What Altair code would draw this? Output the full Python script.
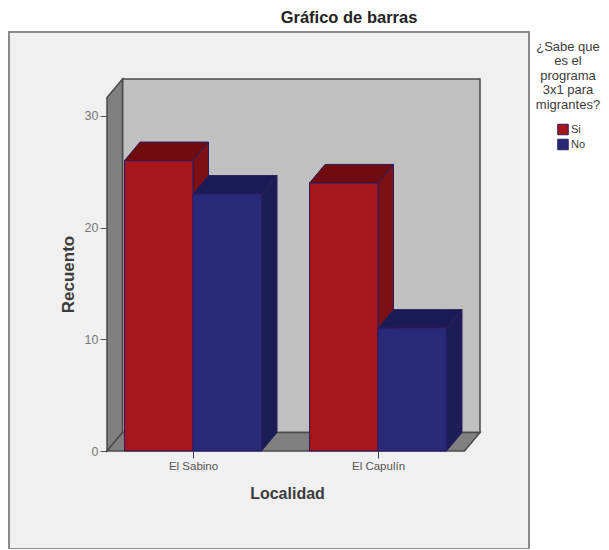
import altair as alt
import pandas as pd

# ---- values ----
categories = ["El Sabino", "El Capulín"]
series = ["Si", "No"]
si_counts = [26, 24]
no_counts = [23, 11]
y_ticks = [0, 10, 20, 30]
legend_title = ["¿Sabe que", "es el", "programa", "3x1 para", "migrantes?"]

# ---- styles / geometry ----
FONT = "Liberation Sans"
TEXT = "#3c3c3c"
FRONT = {"Si": "#a5151b", "No": "#29297a"}
TOP = {"Si": "#6e0c10", "No": "#1a1a57"}
SIDE = {"Si": "#7c1014", "No": "#1c1c56"}
EDGE = "#2b1d5c"
WALL_EDGE = "#4a4a4a"

PX_X = 185.0          # pixels per category step
PX_Y = 11.17          # pixels per count
PLOT_W, PLOT_H = 373, 372
BAR = 68.5 / PX_X     # bar width in category units
DX = 15.5 / PX_X      # depth, x
DY = 18.5 / PX_Y      # depth, y
X_MIN = -86.0 / PX_X
X_MAX = X_MIN + PLOT_W / PX_X
Y_MAX = PLOT_H / PX_Y
WALL_TOP = Y_MAX - DY
FLOOR_RIGHT = X_MAX - DX
LEFT, TOP_PAD = 99, 71
SVG_W, SVG_H = 593, 541

x_enc = alt.X(
    "x:Q",
    scale=alt.Scale(domain=[X_MIN, X_MAX], nice=False, zero=False),
    axis=alt.Axis(
        title="Localidad", zindex=1,
        titleFont=FONT, titleFontSize=16, titleFontWeight="bold",
        titleColor=TEXT, titleX=287 - 107, titleY=498 - 451,
        titleBaseline="alphabetic", titleAlign="center",
        labelFont=FONT, labelFontSize=11.5, labelColor="#555555", labelPadding=2,
        values=list(range(len(categories))),
        labelExpr="datum.value == 0 ? '%s' : '%s'" % tuple(categories),
        tickSize=7, tickColor="#3a3a5a", grid=False, domain=False,
    ),
)
y_enc = alt.Y(
    "y:Q",
    stack=None,
    scale=alt.Scale(domain=[0, Y_MAX], nice=False),
    axis=alt.Axis(
        title="Recuento", zindex=1,
        titleFont=FONT, titleFontSize=17, titleFontWeight="bold",
        titleColor=TEXT, titleX=73 - 107, titleY=274 - 79,
        titleBaseline="alphabetic", titleAlign="center",
        labelFont=FONT, labelFontSize=12.5, labelColor="#777777", labelPadding=2,
        values=y_ticks, format="d",
        tickSize=7, tickColor="#555555", grid=False, domain=False,
    ),
)


def face_layer(rows, fill, edge, width=1.0):
    return (
        alt.Chart(pd.DataFrame(rows, columns=["x", "y", "y2"]))
        .mark_area(orient="vertical", fill=fill, stroke=edge, strokeWidth=width, opacity=1)
        .encode(x=x_enc, y=y_enc, y2="y2:Q")
    )


def top_face(a, b, v, fill, edge, width=1.0):
    rows = [
        (a, v, v),
        (a + DX, v, v + DY),
        (b, v, v + DY),
        (b + DX, v + DY, v + DY),
    ]
    return face_layer(rows, fill, edge, width)


def side_face(b, v, fill, edge, width=1.0):
    rows = [(b, 0, v), (b + DX, DY, v + DY)]
    return face_layer(rows, fill, edge, width)


frame = (
    alt.Chart(pd.DataFrame([{"a": 1}]))
    .mark_rect(fill="#f0f0f0", stroke="#8a8a8a", strokeWidth=2, clip=False)
    .encode(
        x=alt.value(-LEFT + 1), x2=alt.value(529 - 107),
        y=alt.value(32 - 79), y2=alt.value(549 - 79),
    )
)
back = (
    alt.Chart(pd.DataFrame([dict(x=X_MIN + DX, x2=X_MAX, y=DY, y2=Y_MAX)]))
    .mark_rect(fill="#c0c0c0", stroke=WALL_EDGE, strokeWidth=1.5)
    .encode(x=x_enc, x2="x2:Q", y=y_enc, y2="y2:Q")
)

layers = [
    frame,
    back,
    side_face(X_MIN, WALL_TOP, "#808080", WALL_EDGE, 1.5),
    top_face(X_MIN, FLOOR_RIGHT, 0, "#808080", WALL_EDGE, 1.5),
]

fronts = []
for i, cat in enumerate(categories):
    for j, (s, vals) in enumerate(zip(series, [si_counts, no_counts])):
        a = i + (j - 1) * BAR
        b = a + BAR
        v = vals[i]
        layers.append(top_face(a, b, v, TOP[s], EDGE))
        layers.append(side_face(b, v, SIDE[s], EDGE))
        fronts.append(dict(x=a, x2=b, y=0, y2=v, serie=s, cat=cat))

front = (
    alt.Chart(pd.DataFrame(fronts))
    .mark_rect(stroke=EDGE, strokeWidth=1, opacity=1)
    .encode(
        x=x_enc, x2="x2:Q", y=y_enc, y2="y2:Q",
        color=alt.Color(
            "serie:N",
            scale=alt.Scale(domain=series, range=[FRONT[s] for s in series]),
            legend=alt.Legend(
                title=None, orient="none", legendX=557 - 107, legendY=122 - 79,
                symbolType="square", symbolSize=110, symbolStrokeColor=EDGE,
                symbolStrokeWidth=1, symbolOpacity=1, labelFont=FONT, labelFontSize=11,
                labelColor=TEXT, labelOffset=2, rowPadding=0, clipHeight=15, padding=0,
            ),
        ),
    )
)

legend_text = (
    alt.Chart(pd.DataFrame([{"a": 1}]))
    .mark_text(
        text=legend_title, lineHeight=14.4, font=FONT, fontSize=13, color=TEXT,
        align="center", baseline="top",
    )
    .encode(x=alt.value(568 - 107), y=alt.value(41 - 79))
)
title_text = (
    alt.Chart(pd.DataFrame({"t": ["Gráfico de barras"]}))
    .mark_text(font=FONT, fontSize=16.5, fontWeight="bold", color="#222222", align="center", baseline="alphabetic")
    .encode(text="t:N", x=alt.value(349 - 107), y=alt.value(23 - 79))
)

chart = (
    alt.layer(*layers, front, title_text, legend_text)
    .properties(
        width=PLOT_W, height=PLOT_H,
        autosize=alt.AutoSizeParams(type="none"),
        padding={"left": LEFT, "top": TOP_PAD, "right": SVG_W - LEFT - PLOT_W, "bottom": SVG_H - TOP_PAD - PLOT_H},
        background="white",
    )
    .configure_view(stroke=None)
)
chart.save("out.html", embed_options={"renderer": "svg", "actions": False})
